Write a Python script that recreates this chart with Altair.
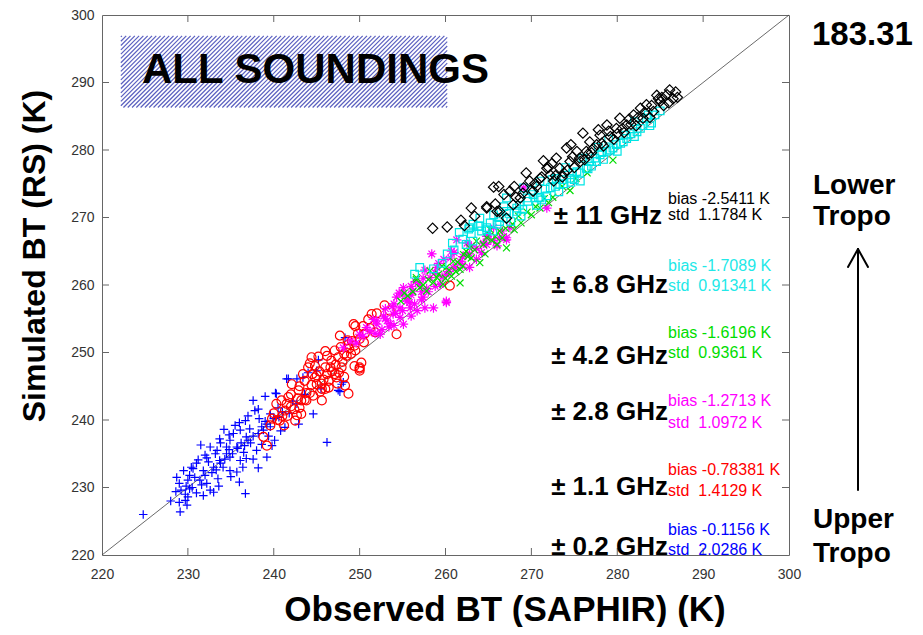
import altair as alt
import pandas as pd
import numpy as np

# ---------------- data: (Observed BT SAPHIR, Simulated BT RS) in K ----------------
blue_pts = [(224.8,226.0),(229.1,226.4),(229.9,227.4),(229.7,229.0),(236.7,229.1),(228.7,231.5),(229.5,232.5),
            (230.6,232.8),(231.4,231.1),(232.6,229.6),(232.2,230.6),(231.2,234.1),(232.4,233.8),(233.5,231.3),
            (233.7,234.0),(233.2,235.0),(232.6,236.0),(234.5,236.0),(234.9,234.5),(234.9,232.5),(235.7,232.3),
            (233.7,237.2),(234.9,237.0),(235.7,236.0),(236.5,235.2),(236.8,234.3),(235.3,238.0),(236.1,238.5),
            (236.8,237.5),(238.0,235.5),(238.2,232.9),(239.2,234.5),(236.7,239.9),(237.2,238.7),(237.8,241.4),
            (237.6,242.9),(238.8,238.5),(239.2,239.4),(239.6,240.9),(240.1,237.0),(240.3,243.9),(241.3,238.9),
            (241.7,246.1),(242.7,242.4),(242.9,239.4),(244.6,240.9),(246.2,236.7),(247.7,244.2),(248.1,245.6),
            (245.0,247.3),(243.4,246.3),(230.0,231.1),(230.8,231.5),(231.8,232.5),(233.0,233.0),(234.1,233.0),
            (234.5,235.0),(236.1,234.0),(233.4,235.5),(232.0,234.8),(230.4,233.0),(229.2,229.6),(229.7,228.1),
            (238.3,240.2),(240.5,241.8),(243.6,243.8),(245.5,244.6),(234.2,238.6),(231.5,236.3),(235.5,239.2),
            (237.3,236.6),(239.8,236.2),(233.0,229.3),(230.2,229.8),(228.0,228.0),(248.3,252.2),(247.9,245.3),
            (247.5,244.4),(245.2,248.9),(244.0,247.0),(242.7,246.1),(241.5,246.1),(240.2,244.0),(239.0,243.5),
            (229.0,230.6),(229.8,230.2),(230.5,230.0),(231.0,229.2),(231.6,230.4),(232.0,231.8),(232.8,232.2),
            (233.3,232.6),(233.8,233.6),(234.3,234.2),(234.8,235.6),(235.2,235.0),(235.8,235.8),(236.2,236.6),
            (236.6,236.2),(237.0,237.0),(237.6,237.6),(238.2,238.0),(238.6,239.0),(239.0,239.8),(239.6,239.0),
            (240.0,240.2),(240.6,240.4),(241.0,241.2),(241.8,241.0),(242.2,242.8),(231.0,233.6),(232.2,234.4),
            (233.8,236.6),(234.8,237.8),(236.0,239.6),(237.0,240.6),(238.2,241.6),(230.2,231.8),(231.8,228.8),
            (233.6,230.2),(235.0,231.6),(236.4,233.0),(237.6,234.2),(239.4,237.6),(240.8,238.4),(228.6,229.4),
            (230.0,228.6),(229.0,227.8),(236.0,230.8),(238.6,236.4)]

red_pts = [(252.9,257.0),(249.5,253.9),(250.4,253.9),(247.7,252.5),(248.7,251.2),(250.2,248.5),(250.0,247.6),
           (248.7,243.9),(248.3,245.1),(247.1,250.3),(246.7,248.8),(246.0,247.8),(245.6,244.6),(244.8,246.3),
           (244.0,247.8),(244.4,249.3),(243.6,245.8),(242.9,244.4),(243.2,242.9),(242.1,245.3),(241.7,243.4),
           (240.9,242.9),(241.3,241.4),(240.3,242.4),(242.5,239.9),(243.2,240.9),(245.6,242.9),(246.4,245.8),
           (247.1,246.8),(247.9,247.8),(247.5,249.3),(248.5,249.5),(249.1,251.7),(249.5,250.3),(251.0,254.9),
           (251.4,255.7),(246.0,244.6),(242.7,240.7),(240.7,239.9),(239.6,239.2),(238.8,237.5),(239.2,236.2),
           (241.5,242.4),(243.8,242.9),(245.0,245.3),(247.3,246.3),(250.0,247.3),(244.5,246.8),(245.3,247.2),
           (243.0,245.0),(242.0,243.8),(246.2,249.5),(247.8,250.8),(245.8,246.0),(244.2,244.0),(246.8,247.2),
           (248.0,248.6),(249.0,249.8),(250.5,251.5),(251.8,253.0),(249.8,252.8),(241.0,240.6),(240.0,241.0),
           (248.6,251.8),(252.0,255.8),(253.5,256.2),(244.8,248.0),(254.3,252.7),(260.5,259.9),(249.3,254.2),
           (250.0,247.8),(241.6,240.6),(242.4,241.6),(243.0,241.8),(243.8,244.0),(244.4,245.2),(245.0,246.6),
           (245.6,245.4),(246.2,246.8),(246.6,247.8),(247.2,248.2),(247.6,247.0),(248.2,249.8),(248.8,250.6),
           (249.4,251.0),(250.0,252.0),(250.6,252.8),(251.2,253.6),(242.8,243.2),(243.6,243.0),(244.6,243.6),
           (245.4,244.2),(246.4,244.8),(247.4,245.4),(242.0,242.0),(243.4,246.8),(244.2,248.4),(245.2,249.4),
           (246.0,250.2),(240.4,240.0),(241.2,239.2),(239.8,240.2),(248.2,246.4),(249.4,248.0)]

magenta_pts = [(261.3,266.7),(260.7,265.0),(260.1,257.6),(258.6,256.6),(261.7,263.5),(262.8,262.6),(267.1,266.7),
               (265.6,268.5),(263.6,263.8),(259.0,262.6),(258.2,261.1),(257.0,260.1),(256.2,259.1),(255.5,257.6),
               (254.7,256.6),(253.9,255.7),(253.2,254.7),(252.0,254.2),(251.2,253.2),(254.3,258.2),(255.1,259.6),
               (255.9,256.6),(256.7,256.2),(254.7,255.2),(252.4,252.7),(257.4,258.2),(259.4,260.1),(260.1,261.6),
               (260.9,262.6),(262.4,264.5),(264.8,266.0),(266.3,267.0),(267.5,268.5),(252.0,254.7),(250.8,253.7),
               (250.0,252.7),(248.9,251.7),(248.1,250.7),(255.1,254.2),(260.1,257.4),(269.1,274.4),(271.8,271.4),
               (264.8,267.2),(267.1,267.0),(262.5,266.2),(266.0,265.8),(253.0,256.5),(254.0,257.2),(256.0,258.5),
               (257.8,259.5),(258.8,261.8),(256.5,260.5),(255.0,258.8),(253.6,254.3),(257.2,257.8),(259.8,263.8),
               (261.0,264.8),(263.0,265.8),(265.0,267.6),(258.4,264.6),(257.6,262.2),(251.6,254.9),(250.4,252.4),
               (249.6,251.4),(262.0,263.0),(264.2,264.8),(251.8,252.8),(252.6,253.4),(253.4,253.8),(254.2,255.8),
               (255.0,256.2),(255.8,257.4),(256.4,257.2),(257.2,259.0),(258.0,259.0),(258.8,259.8),(259.6,261.2),
               (260.4,262.0),(261.2,262.6),(262.0,264.2),(262.8,264.6),(263.6,265.4),(264.4,266.2),(265.6,266.6),
               (266.6,268.0),(254.6,258.8),(256.0,259.8),(257.4,261.0),(259.2,263.2),(260.6,264.0),(253.0,255.0),
               (254.0,254.0),(256.0,255.4),(257.6,256.6),(255.4,258.0),(253.8,256.8),(252.8,255.4)]

green_pts = [(256.6,260.8),(258.2,262.1),(259.0,261.1),(260.1,262.6),(261.7,260.3),(260.9,263.5),(262.1,264.5),
             (262.8,265.5),(264.0,263.3),(263.6,266.5),(264.8,267.0),(266.0,266.0),(267.1,265.5),(266.3,268.0),
             (257.0,259.6),(257.8,259.1),(259.7,260.1),(260.7,261.3),(261.7,262.3),(256.6,261.1),(279.5,278.5),
             (265.2,268.2),(267.8,269.0),(268.5,270.2),(269.5,270.8),(270.5,271.6),(271.5,272.8),(272.5,273.0),
             (268.0,268.2),(263.0,264.0),(261.2,262.0),(258.6,260.4),(255.6,258.4),(254.8,257.6),(259.6,262.8),
             (262.4,265.0),(265.8,267.2),(267.0,268.4),(270.0,270.4),(273.6,274.6),(275.2,275.8),(276.5,276.6),
             (274.5,274.0),(257.4,260.0),(258.0,260.8),(259.2,261.6),(260.4,262.2),(261.4,263.4),(262.6,264.2),
             (263.4,265.2),(264.4,266.0),(265.4,266.6),(266.6,267.0),(268.8,269.2),(271.0,271.4),(272.0,272.2),
             (256.2,259.0),(255.2,258.8),(260.0,261.0),(262.0,262.8),(264.6,264.6)]

cyan_pts = [(262.8,268.5),(264.0,268.7),(264.8,268.5),(266.3,269.4),(267.1,270.9),(268.3,271.4),(269.5,272.9),
            (270.2,273.4),(271.0,272.9),(272.2,274.4),(273.3,274.9),(274.5,275.8),(275.7,275.4),(276.4,277.3),
            (277.6,278.3),(278.8,279.8),(279.9,280.8),(281.1,281.7),(282.3,282.7),(283.4,284.7),(271.0,275.4),
            (269.1,274.4),(267.1,272.9),(265.6,270.4),(264.0,269.9),(263.2,269.0),(272.9,275.8),(275.3,276.8),
            (276.8,278.3),(278.0,279.3),(279.5,280.3),(280.7,281.2),(282.7,283.2),(257.0,262.6),(262.7,268.3),
            (263.8,268.7),(264.8,268.2),(266.0,269.0),(267.1,269.9),(268.3,270.9),(262.4,266.0),(263.2,266.5),
            (261.0,265.2),(260.2,264.6),(259.6,263.2),(265.5,268.0),(268.8,270.2),(270.6,271.8),(271.8,273.2),
            (273.8,275.0),(274.8,276.6),(277.0,277.6),(278.4,278.6),(280.0,279.8),(281.6,282.4),(283.8,283.6),
            (284.4,285.2),(277.8,280.4),(274.0,277.4),(285.0,285.8),(256.4,261.6),(258.6,262.4),(266.8,271.6),
            (270.0,274.0),(272.4,275.6),(279.0,281.6),(282.0,284.2),(276.0,278.8),(262.0,266.8),(263.0,267.6),
            (264.2,268.0),(265.2,269.2),(266.2,270.0),(267.4,270.6),(268.6,271.8),(269.6,272.4),(270.8,273.0),
            (271.6,274.2),(272.8,274.6),(273.6,275.6),(274.6,275.2),(275.6,276.6),(276.6,277.2),(277.4,278.8),
            (278.2,279.6),(279.2,280.0),(280.4,281.0),(281.0,282.2),(282.0,282.0),(283.0,283.6),(283.6,285.2),
            (284.0,284.0),(269.0,271.2),(271.2,272.6),(273.2,273.8),(275.0,275.6),(267.6,269.4),(261.6,267.8),
            (260.8,266.2)]

black_pts = [(286.1,288.9),(286.5,287.6),(285.0,287.2),(284.2,285.7),(283.0,284.7),(281.9,285.2),(281.1,283.7),
             (279.9,283.2),(279.2,282.0),(278.0,282.2),(277.6,280.8),(276.0,282.5),(276.4,279.8),(275.3,279.8),
             (275.7,278.3),(274.5,278.3),(273.3,277.3),(272.9,278.8),(272.2,276.3),(271.0,275.8),(271.8,277.3),
             (269.8,275.4),(270.2,273.9),(269.1,274.4),(268.7,272.9),(267.5,273.9),(267.9,271.9),(266.2,274.6),
             (264.8,271.4),(266.3,270.9),(267.1,269.9),(278.8,283.7),(280.3,284.7),(282.7,286.2),(283.4,286.7),
             (284.6,288.1),(274.1,280.3),(276.8,281.2),(258.5,268.4),(265.6,274.5),(264.8,271.6),(266.0,270.9),
             (277.0,279.6),(278.4,280.6),(279.6,281.6),(280.8,282.6),(282.2,283.6),(283.8,284.8),(285.4,286.6),
             (273.8,276.6),(272.6,275.4),(270.6,274.6),(268.2,273.0),(275.0,277.4),(276.2,278.6),(281.4,284.6),
             (284.8,287.6),(285.8,288.2),(286.8,288.6),(263.4,270.2),(262.2,268.8),(269.4,276.6),(271.4,278.4),
             (287.0,287.8),(270.4,275.0),(271.2,276.0),(272.0,277.4),(272.8,276.2),(273.6,276.0),(274.2,277.0),
             (274.8,279.0),(275.6,278.8),(276.6,279.4),(277.2,280.2),(278.2,281.0),(279.0,282.8),(280.0,282.4),
             (280.6,283.2),(281.6,283.8),(282.4,284.8),(283.2,285.6),(284.0,286.6),(285.2,287.8),(286.0,287.0),
             (269.0,273.6),(268.0,274.6),(266.8,273.4),(265.8,272.0),(272.4,278.0),(274.6,280.8),(277.8,283.0),
             (263.0,271.4),(261.8,269.6),(260.2,268.6)]

series_names = ["± 0.2 GHz", "± 1.1 GHz", "± 2.8 GHz", "± 4.2 GHz", "± 6.8 GHz", "± 11 GHz"]
series_points = [blue_pts, red_pts, magenta_pts, green_pts, cyan_pts, black_pts]
series_colors = ["#0000ff", "#ff0000", "#ff00ff", "#00dd00", "#00e5e5", "#000000"]
series_shapes = ["M-1,0L1,0M0,-1L0,1",
                 "circle",
                 "M-1,0L1,0M0,-1L0,1M-0.7,-0.7L0.7,0.7M-0.7,0.7L0.7,-0.7",
                 "M-1,-1L1,1M-1,1L1,-1",
                 "square",
                 "diamond"]
series_sizes = [72, 80, 90, 48, 58, 105]

bias_labels = ["bias -0.1156 K", "bias -0.78381 K", "bias -1.2713 K", "bias -1.6196 K", "bias -1.7089 K", "bias -2.5411 K"]
std_labels = ["std  2.0286 K", "std  1.4129 K", "std  1.0972 K", "std  0.9361 K", "std  0.91341 K", "std  1.1784 K"]
stat_colors = ["#0000ff", "#ff0000", "#ff00ff", "#00dd00", "#22e8e8", "#000000"]

axis_ticks = [220, 230, 240, 250, 260, 270, 280, 290, 300]
inner_ticks = [230, 240, 250, 260, 270, 280, 290]
diag_ends = [220, 300]

# ---------------- layout ----------------
W, H = 687, 540
TOP = 7
FONT = "Liberation Sans"
FRAME = "#666666"
dummy = pd.DataFrame({"d": [0]})

xscale = alt.Scale(domain=[220, 300], nice=False, zero=False)
yscale = alt.Scale(domain=[220, 300], nice=False, zero=False)


def xenc(field):
    return alt.X(f"{field}:Q", scale=xscale,
                 axis=alt.Axis(values=axis_ticks, title=None, grid=False, ticks=False, tickSize=0, domain=False,
                               labelFont=FONT, labelFontSize=14, labelColor="#333333", labelPadding=12,
                               labelFlush=False, labelOverlap=False))


def yenc(field):
    return alt.Y(f"{field}:Q", scale=yscale,
                 axis=alt.Axis(values=axis_ticks, title=None, grid=False, ticks=False, tickSize=0, domain=False,
                               labelFont=FONT, labelFontSize=14, labelColor="#333333", labelPadding=8,
                               labelFlush=False, labelOverlap=False))


def px_to_x(p):
    return 220 + p / W * 80


def px_to_y(p):
    return 300 - p / H * 80


# page y (absolute) -> plot-relative y
def ry(page_y):
    return page_y - 8 - TOP


def rx(page_x):
    return page_x - 102


# hatched "ALL SOUNDINGS" box (decoration)
box_l, box_r = (222.2 - 220) / 80 * W, (260.2 - 220) / 80 * W
box_t, box_b = (300 - 296.9) / 80 * H, (300 - 286.3) / 80 * H
rows = []
c = box_l + box_t + 1.0
while c < box_r + box_b:
    xs = max(box_l, c - box_b)
    xe = min(box_r, c - box_t)
    if xe > xs:
        rows.append({"x1": px_to_x(xs), "y1": px_to_y(c - xs), "x2": px_to_x(xe), "y2": px_to_y(c - xe)})
    c += 4.3
hatch_df = pd.DataFrame(rows)
hatch = alt.Chart(hatch_df).mark_rule(color="#5a5fc0", strokeWidth=1.2).encode(
    x=xenc("x1"), y=yenc("y1"), x2="x2:Q", y2="y2:Q")

# 1:1 line
diag_df = pd.DataFrame({"a": [diag_ends[0]], "b": [diag_ends[1]]})
diag = alt.Chart(diag_df).mark_rule(color="#444444", strokeWidth=0.8).encode(
    x=xenc("a"), y=yenc("a"), x2="b:Q", y2="b:Q")

# inward ticks on all four sides
tick_df = pd.DataFrame({"t": inner_ticks})
tk = dict(color=FRAME, strokeWidth=1)
tick_b = alt.Chart(tick_df).mark_rule(**tk).encode(x=xenc("t"), y=alt.value(H), y2=alt.value(H - 7))
tick_t = alt.Chart(tick_df).mark_rule(**tk).encode(x=xenc("t"), y=alt.value(0), y2=alt.value(7))
tick_l = alt.Chart(tick_df).mark_rule(**tk).encode(y=yenc("t"), x=alt.value(0), x2=alt.value(7))
tick_r = alt.Chart(tick_df).mark_rule(**tk).encode(y=yenc("t"), x=alt.value(W), x2=alt.value(W - 7))

# scatter layers
point_layers = []
for name, pts, col, shp, sz in zip(series_names, series_points, series_colors, series_shapes, series_sizes):
    df = pd.DataFrame({"obs": [p[0] for p in pts], "sim": [p[1] for p in pts], "series": name})
    point_layers.append(
        alt.Chart(df).mark_point(shape=shp, size=sz, filled=False, color=col, strokeWidth=1.2, opacity=1)
        .encode(x=xenc("obs"), y=yenc("sim"))
    )


def txt(s, x, y, size, bold=False, color="#000000", align="left", angle=0):
    return alt.Chart(dummy).mark_text(text=s, fontSize=size, fontWeight="bold" if bold else "normal",
                                      color=color, align=align, baseline="middle", font=FONT, angle=angle
                                      ).encode(x=alt.value(x), y=alt.value(y))


texts = [
    txt("ALL SOUNDINGS", rx(142), ry(70), 42, bold=True),
    txt("Simulated BT (RS) (K)", rx(35), ry(256), 32, bold=True, align="center", angle=270),
    txt("Observed BT (SAPHIR) (K)", rx(505), ry(610), 35, bold=True, align="center"),
    txt("183.31", rx(812), ry(35), 33, bold=True),
    txt("Lower", rx(813), ry(186), 28, bold=True),
    txt("Tropo", rx(813), ry(217), 28, bold=True),
    txt("Upper", rx(813), ry(520), 28, bold=True),
    txt("Tropo", rx(813), ry(554), 28, bold=True),
]

ghz_y = [547, 487, 412, 356, 285, 216]
bias_y = [530, 470, 401, 333, 266, 199]
std_y = [550, 491, 423, 353, 286, 215]
for i in range(6):
    right = 662 if i == 5 else 668
    texts.append(txt(series_names[i], rx(right), ry(ghz_y[i]), 26, bold=True, align="right"))
    texts.append(txt(bias_labels[i], rx(668), ry(bias_y[i]), 16, color=stat_colors[i]))
    texts.append(txt(std_labels[i].replace("  ", "\u00a0\u00a0"), rx(668), ry(std_y[i]), 16, color=stat_colors[i]))

# arrow from Upper Tropo to Lower Tropo
arrow_kw = dict(color="#000000", strokeWidth=2, strokeCap="round")
ax_, atop, abot = rx(858), ry(249), ry(490)
arrow = [
    alt.Chart(dummy).mark_rule(**arrow_kw).encode(x=alt.value(ax_), y=alt.value(atop), y2=alt.value(abot)),
    alt.Chart(dummy).mark_rule(**arrow_kw).encode(x=alt.value(ax_ - 10), y=alt.value(atop + 18),
                                                  x2=alt.value(ax_), y2=alt.value(atop)),
    alt.Chart(dummy).mark_rule(**arrow_kw).encode(x=alt.value(ax_ + 10), y=alt.value(atop + 18),
                                                  x2=alt.value(ax_), y2=alt.value(atop)),
]

chart = alt.layer(hatch, texts[0], diag, tick_b, tick_t, tick_l, tick_r, *point_layers, *texts[1:], *arrow).properties(
    width=W, height=H,
    autosize=alt.AutoSizeParams(type="none"),
    padding={"left": 94, "top": TOP, "right": 126, "bottom": 72},
    background="white",
).configure_view(stroke=FRAME, strokeWidth=1)

chart.save("out.html", embed_options={"renderer": "svg", "actions": False})
